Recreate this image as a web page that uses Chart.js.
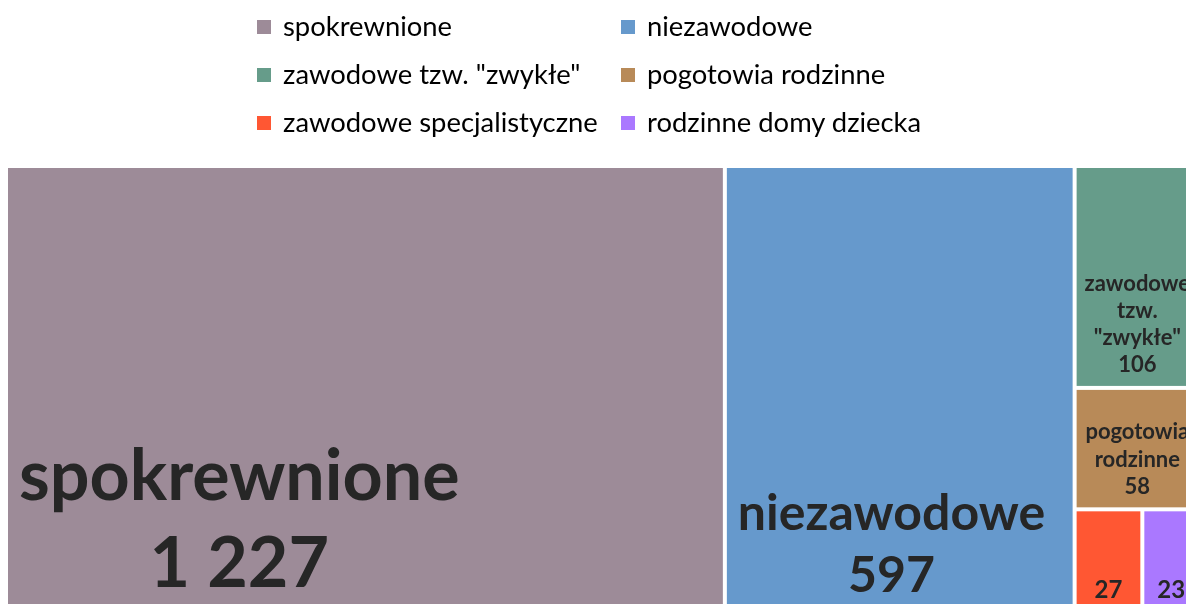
<!DOCTYPE html>
<html lang="pl">
<head>
<meta charset="utf-8">
<title>Rodziny zastępcze</title>
<script src="https://cdn.jsdelivr.net/npm/chart.js@4.4.1/dist/chart.umd.min.js"></script>
<style>
  html, body { margin: 0; padding: 0; background: #fff; overflow: hidden; width: 1186px; height: 604px; }
  #wrap { position: absolute; left: 0; top: 0; width: 1210px; height: 620px; }
  #legend { position: absolute; left: 0; top: 0; width: 1186px; height: 160px; font-family: Lato, sans-serif; font-size: 27.4px; color: #000; z-index: 2; }
  .lg-item { position: absolute; white-space: nowrap; line-height: 30px; }
  .lg-box { position: absolute; width: 13.5px; height: 13.5px; }
</style>
</head>
<body>
<div id="wrap"><canvas id="chart"></canvas></div>
<div id="legend"></div>
<script>
// dane
const categories = ['spokrewnione', 'niezawodowe', 'zawodowe tzw. "zwykłe"', 'pogotowia rodzinne', 'zawodowe specjalistyczne', 'rodzinne domy dziecka'];
const values = [1227, 597, 106, 58, 27, 23];
const colors = ['#9D8B98', '#6699CC', '#669C8A', '#B88A58', '#FF5733', '#AA78FF'];
// rozmiar czcionki etykiety w kafelku
const labelFontSizes = [70, 50, 22, 22, 24, 24];

const FONT = 'Lato, sans-serif';
const TEXT_COLOR = '#262626';

// liczby z odstępem tysięcy
function formatNumber(v) {
  return String(v).replace(/\B(?=(\d{3})+(?!\d))/g, ' ');
}

// legenda HTML (2 kolumny)
function buildLegend() {
  const el = document.getElementById('legend');
  const colX = [257, 621];
  const textOffset = 26;
  categories.forEach((name, i) => {
    const col = i % 2;
    const row = Math.floor(i / 2);
    const baseline = 36.7 + row * 48;
    const box = document.createElement('div');
    box.className = 'lg-box';
    box.style.left = colX[col] + 'px';
    box.style.top = (baseline - 16.7) + 'px';
    box.style.background = colors[i];
    el.appendChild(box);
    const item = document.createElement('div');
    item.className = 'lg-item';
    item.style.left = (colX[col] + textOffset) + 'px';
    item.style.top = (baseline - 25.4) + 'px';
    item.textContent = name;
    el.appendChild(item);
  });
}

// squarified treemap w jednostkach pikselowych
function worst(row, side, scale) {
  const areas = row.map(v => v * scale);
  const s = areas.reduce((a, b) => a + b, 0);
  const max = Math.max(...areas);
  const min = Math.min(...areas);
  return Math.max(side * side * max / (s * s), (s * s) / (side * side * min));
}

function squarify(vals, W, H) {
  const total = vals.reduce((a, b) => a + b, 0);
  const scale = W * H / total;
  const out = [];
  let rest = vals.map((v, i) => ({ v, i }));
  let r = { x: 0, y: 0, w: W, h: H };
  while (rest.length) {
    const side = Math.min(r.w, r.h);
    const row = [rest[0]];
    let k = 1;
    while (k < rest.length && worst(row.concat(rest[k]).map(o => o.v), side, scale) <= worst(row.map(o => o.v), side, scale)) {
      row.push(rest[k]);
      k++;
    }
    const sum = row.reduce((a, o) => a + o.v, 0) * scale;
    if (r.w >= r.h) {
      const cw = sum / r.h;
      let yy = r.y;
      row.forEach(o => {
        const hh = o.v * scale / cw;
        out[o.i] = { x: r.x, y: yy, w: cw, h: hh };
        yy += hh;
      });
      r.x += cw; r.w -= cw;
    } else {
      const rh = sum / r.w;
      let xx = r.x;
      row.forEach(o => {
        const ww = o.v * scale / rh;
        out[o.i] = { x: xx, y: r.y, w: ww, h: rh };
        xx += ww;
      });
      r.y += rh; r.h -= rh;
    }
    rest = rest.slice(k);
  }
  return out;
}

function wrapWords(ctx, text, maxW) {
  const words = text.split(' ');
  const lines = [];
  let cur = '';
  words.forEach(w => {
    const t = cur ? cur + ' ' + w : w;
    if (!cur || ctx.measureText(t).width <= maxW) cur = t;
    else { lines.push(cur); cur = w; }
  });
  if (cur) lines.push(cur);
  return lines;
}

// plugin rysujący kafelki
const treemapPlugin = {
  id: 'treemap',
  afterDatasetsDraw(chart) {
    const { ctx, chartArea, scales } = chart;
    const W = chartArea.right - chartArea.left;
    const H = chartArea.bottom - chartArea.top;
    const rects = squarify(values, W, H);
    const gap = 2;
    const pad = 11;
    ctx.save();
    rects.forEach((r, i) => {
      const x0 = scales.x.getPixelForValue(r.x / W) + gap;
      const x1 = scales.x.getPixelForValue((r.x + r.w) / W) - gap;
      const y0 = scales.y.getPixelForValue(r.y / H) + gap;
      const y1 = scales.y.getPixelForValue((r.y + r.h) / H) - gap;
      const w = x1 - x0;
      ctx.fillStyle = colors[i];
      ctx.fillRect(x0, y0, w, y1 - y0);

      // etykieta
      const fs = labelFontSizes[i];
      ctx.font = 'bold ' + fs + 'px ' + FONT;
      const words = categories[i].split(' ');
      const maxWord = Math.max(...words.map(t => ctx.measureText(t).width));
      let lines;
      let centered = false;
      if (maxWord > w - 4) {
        lines = [formatNumber(values[i])];
        centered = true;
      } else {
        lines = wrapWords(ctx, categories[i], w - 2 * pad).concat(formatNumber(values[i]));
      }
      const widths = lines.map(t => ctx.measureText(t).width);
      const bw = Math.max(...widths);
      const left = centered ? x0 + (w - bw) / 2 : x0 + Math.min(pad, (w - bw) / 2);
      const lh = fs * 1.24;
      const lastBase = y1 - (fs * 0.25 + 8);
      ctx.fillStyle = TEXT_COLOR;
      ctx.textBaseline = 'alphabetic';
      ctx.textAlign = 'left';
      lines.forEach((t, j) => {
        const yb = lastBase - (lines.length - 1 - j) * lh;
        ctx.fillText(t, left + (bw - widths[j]) / 2, yb);
      });
    });
    ctx.restore();
  }
};

buildLegend();

const chart = new Chart(document.getElementById('chart'), {
  type: 'scatter',
  data: { datasets: [{ data: [] }] },
  options: {
    responsive: true,
    maintainAspectRatio: false,
    animation: false,
    layout: { padding: { left: 6, top: 166, right: 10, bottom: 6 } },
    plugins: { legend: { display: false }, tooltip: { enabled: false } },
    scales: {
      x: { type: 'linear', min: 0, max: 1, display: false },
      y: { type: 'linear', min: 0, max: 1, reverse: true, display: false }
    }
  },
  plugins: [treemapPlugin]
});
</script>
</body>
</html>
